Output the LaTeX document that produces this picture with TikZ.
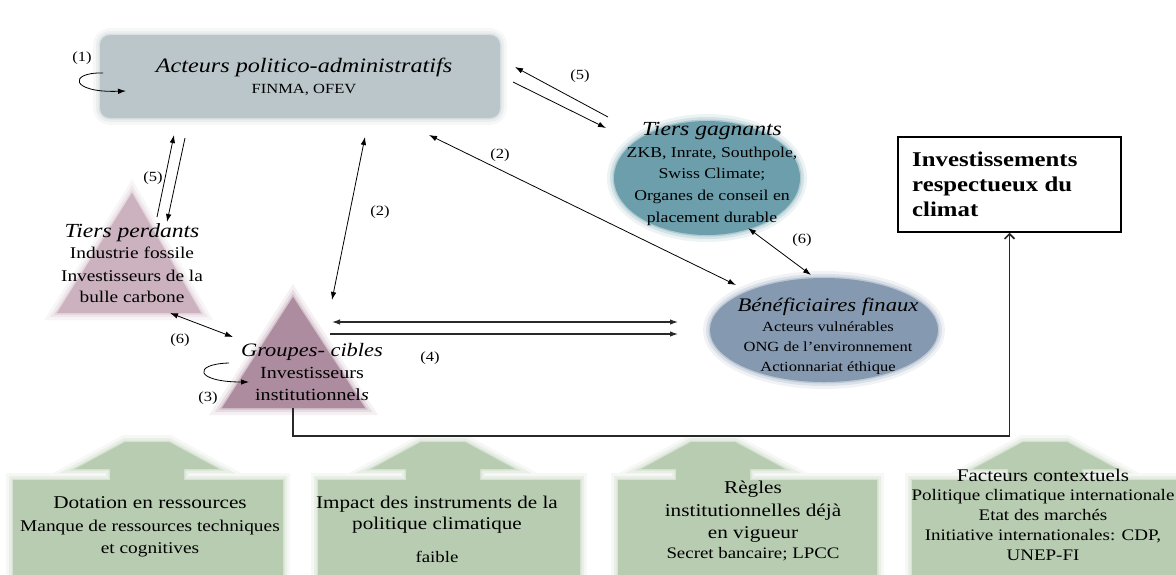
\documentclass[tikz,border=0pt]{standalone}
\usepackage{fontspec}
\setmainfont{Liberation Serif}[FakeStretch=1.18]
\usetikzlibrary{arrows.meta,shapes.geometric}
\definecolor{boxgray}{RGB}{187,198,203}
\definecolor{tealc}{RGB}{108,158,172}
\definecolor{benef}{RGB}{133,153,177}
\definecolor{mauveL}{RGB}{203,178,190}
\definecolor{mauveD}{RGB}{174,140,160}
\definecolor{sage}{RGB}{184,204,178}
\definecolor{linec}{RGB}{40,40,40}
\begin{document}
\begin{tikzpicture}[x=1pt,y=-1pt,
  soft/.style={line join=round,
    preaction={draw=#1,line width=14pt,draw opacity=0.12},
    preaction={draw=#1,line width=8pt,draw opacity=0.2},
    preaction={draw=#1,line width=3pt,draw opacity=0.35},
    fill=#1},
  txt/.style={inner sep=0pt, anchor=base},
  lab/.style={inner sep=0pt, font=\fontsize{14}{16}\selectfont},
  arr/.style={-{Latex[length=8pt,width=5.5pt]}, line width=0.8pt, draw=black},
  darr/.style={{Latex[length=8pt,width=5.5pt]}-{Latex[length=8pt,width=5.5pt]}, line width=0.8pt, draw=black},
  garr/.style={line width=1.2pt, draw=linec},
  ttl/.style={font=\fontsize{#1}{#1}\selectfont\itshape},
  bdy/.style={font=\fontsize{#1}{#1}\selectfont}
]
\useasboundingbox (0,0) rectangle (1176,574);
\fill[white] (0,0) rectangle (1176,574);

% ---- bottom green arrows (context factors)
\foreach \xa/\xb/\cx in {13/283/147, 318/580/443, 618/877/713, 912/1176/1045}{
  \path[soft=sage] (\xa,580) -- (\xa,480) -- (\cx-37,480) -- (\cx-37,469) -- (\cx-72,469)
    -- (\cx-22,442) -- (\cx+22,442) -- (\cx+72,469) -- (\cx+37,469) -- (\cx+37,480) -- (\xb,480) -- (\xb,580) -- cycle;
}

% ---- shapes
\node[soft=boxgray, rounded corners=10pt, minimum width=400pt, minimum height=83pt, inner sep=0pt] (pa) at (300,76.5) {};
\node[soft=tealc, ellipse, minimum width=186pt, minimum height=114pt, inner sep=0pt] (tg) at (707,178) {};
\node[soft=benef, ellipse, minimum width=228pt, minimum height=104pt, inner sep=0pt] (be) at (824,330) {};
\path[soft=mauveL] (132,193) -- (201,313) -- (57,313) -- cycle;
\path[soft=mauveD] (293,297) -- (365,408) -- (222,408) -- cycle;
\node[draw=black, line width=1.5pt, minimum width=223pt, minimum height=95pt, inner sep=0pt] (inv) at (1009.5,184.5) {};
\coordinate (gcb) at (293,408);

% ---- texts
\node[txt, ttl=20.5] (pa1) at (304,72) {Acteurs politico-administratifs};
\node[txt, bdy=14] (pa2) at (304,93) {FINMA, OFEV};

\node[txt, ttl=20] (tg1) at (712,135) {Tiers gagnants};
\node[txt, bdy=15] (tg2) at (712,157) {ZKB, Inrate, Southpole,};
\node[txt, bdy=15] (tg3) at (712,178) {Swiss Climate;};
\node[txt, bdy=15] (tg4) at (712,200) {Organes de conseil en};
\node[txt, bdy=15] (tg5) at (712,222) {placement durable};

\node[txt, anchor=base west, font=\fontsize{21}{22}\selectfont\bfseries] (inv1) at (912,166) {Investissements};
\node[txt, anchor=base west, font=\fontsize{21}{22}\selectfont\bfseries] (inv2) at (912,191) {respectueux du};
\node[txt, anchor=base west, font=\fontsize{21}{22}\selectfont\bfseries] (inv3) at (912,216) {climat};

\node[txt, ttl=20] (tp1) at (132,237) {Tiers perdants};
\node[txt, bdy=16.4] (tp2) at (132,258) {Industrie fossile};
\node[txt, bdy=16.4] (tp3) at (132,281) {Investisseurs de la};
\node[txt, bdy=16.4] (tp4) at (132,302) {bulle carbone};

\node[txt, ttl=19] (gc1) at (312,356) {Groupes- cibles};
\node[txt, bdy=17] (gc2) at (312,378) {Investisseurs};
\node[txt, bdy=17] (gc3) at (312,400) {institutionnel\textit{s}};

\node[txt, ttl=19.2] (be1) at (828,311) {Bénéficiaires finaux};
\node[txt, bdy=14] (be2) at (828,331) {Acteurs vulnérables};
\node[txt, bdy=14] (be3) at (828,351) {ONG de l'environnement};
\node[txt, bdy=14] (be4) at (828,371) {Actionnariat éthique};

\node[txt, bdy=18] (d1) at (150,508) {Dotation en ressources};
\node[txt, bdy=16.4] (d2) at (150,531) {Manque de ressources techniques};
\node[txt, bdy=16.4] (d3) at (150,553) {et cognitives};

\node[txt, bdy=17.9] (i1) at (437,508) {Impact des instruments de la};
\node[txt, bdy=17.9] (i2) at (437,529) {politique climatique};
\node[txt, bdy=16] (i3) at (437,562) {faible};

\node[txt, bdy=18] (r1) at (753,493) {Règles};
\node[txt, bdy=18] (r2) at (753,516) {institutionnelles déjà};
\node[txt, bdy=18] (r3) at (753,538) {en vigueur};
\node[txt, bdy=16] (r4) at (753,558) {Secret bancaire; LPCC};

\node[txt, bdy=17.8] (f1) at (1043,481) {Facteurs contextuels};
\node[txt, bdy=16.1] (f2) at (1043,500) {Politique climatique internationale};
\node[txt, bdy=16.1] (f3) at (1043,520) {Etat des marchés};
\node[txt, bdy=16.1] (f4) at (1043,540) {Initiative internationales: CDP,};
\node[txt, bdy=16.1] (f5) at (1043,560) {UNEP-FI};

% ---- labels
\node[lab] (l1) at (82,58) {(1)};
\node[lab] (l5r) at (580,76) {(5)};
\node[lab] (l2a) at (500,155) {(2)};
\node[lab] (l5l) at (153,178) {(5)};
\node[lab] (l2b) at (380,212) {(2)};
\node[lab] (l6l) at (180,340) {(6)};
\node[lab] (l3) at (208,398) {(3)};
\node[lab] (l4) at (430,358) {(4)};
\node[lab] (l6r) at (802,240) {(6)};

% ---- connector end points
\coordinate (c1s) at (103,73);  \coordinate (c1e) at (126,91);
\coordinate (c3s) at (229,363); \coordinate (c3e) at (249,382);
\coordinate (r5a1) at (608,117); \coordinate (r5a2) at (515,67);
\coordinate (r5b1) at (513,82);  \coordinate (r5b2) at (606,128);
\coordinate (l2s) at (429,135); \coordinate (l2e) at (736,285);
\coordinate (l5a1) at (157,217); \coordinate (l5a2) at (174,135);
\coordinate (l5b1) at (185,138); \coordinate (l5b2) at (167,222);
\coordinate (m2s) at (365,137); \coordinate (m2e) at (332,300);
\coordinate (s6a) at (170,313); \coordinate (s6b) at (233,337);
\coordinate (t6a) at (748,228); \coordinate (t6b) at (811,275);
\coordinate (f4a1) at (332,322); \coordinate (f4a2) at (678,322);
\coordinate (f4b1) at (330,334); \coordinate (f4b2) at (678,334);

% ---- connectors
\draw[arr] (c1s) .. controls (68,72) and (70,93) .. (c1e);
\draw[arr] (c3s) .. controls (192,364) and (195,382) .. (c3e);
\draw[arr] (r5a1) -- (r5a2);
\draw[arr] (r5b1) -- (r5b2);
\draw[darr] (l2s) -- (l2e);
\draw[arr] (l5a1) -- (l5a2);
\draw[arr] (l5b1) -- (l5b2);
\draw[darr] (m2s) -- (m2e);
\draw[darr] (s6a) -- (s6b);
\draw[darr] (t6a) -- (t6b);
\draw[garr, {Latex[length=8pt,width=5.5pt]}-{Latex[length=8pt,width=5.5pt]}] (f4a1) -- (f4a2);
\draw[garr, -{Latex[length=8pt,width=5.5pt]}] (f4b1) -- (f4b2);
\draw[line width=1.6pt, draw=linec, -{Straight Barb[length=5pt,width=10pt]}] (gcb) -- ++(0,28) -| (inv.south);
\end{tikzpicture}
\end{document}
